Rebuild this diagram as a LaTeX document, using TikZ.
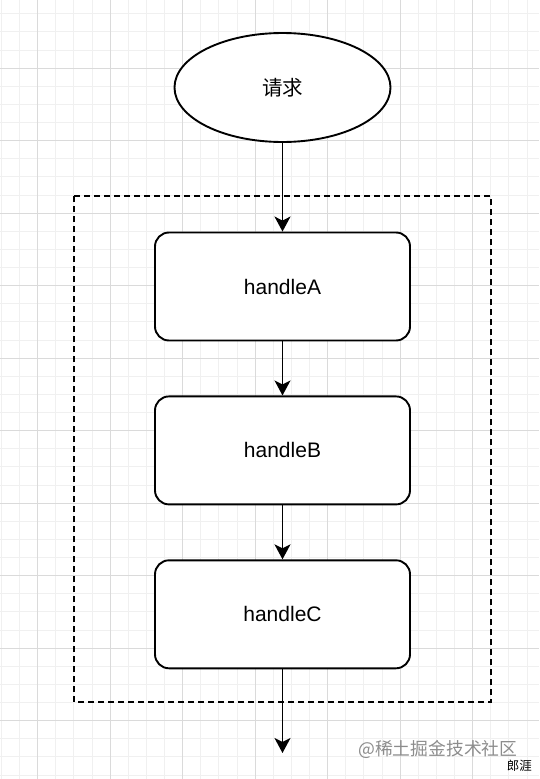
\documentclass[tikz,border=0pt]{standalone}
\usepackage{fontspec}
\setmainfont{Liberation Sans}
\newfontfamily\cjk{Noto Sans CJK SC}
\usepackage{tikz}
\usetikzlibrary{arrows.meta, positioning, shapes.geometric}

\definecolor{gridminor}{HTML}{F0F0F0}
\definecolor{gridmajor}{HTML}{DADADA}

\begin{document}
\begin{tikzpicture}[x=1pt, y=-1pt,
    handler/.style={draw, line width=1.9pt, rounded corners=14pt, minimum width=255pt, minimum height=108pt, font=\fontsize{21}{25}\selectfont},
    flow/.style={-{Stealth[length=15pt, width=16pt, inset=4pt]}, line width=1.9pt}]
    \useasboundingbox (0,0) rectangle (539,779);
    
    % Grid background
    \foreach \i in {0,...,30}
        \draw[gridminor, line width=0.6pt] (1.25+18.125*\i, 0) -- (1.25+18.125*\i, 779);
    \foreach \i in {0,...,43}
        \draw[gridminor, line width=0.6pt] (0, 13.625+18.125*\i) -- (539, 13.625+18.125*\i);
    \foreach \i in {0,...,7}
        \draw[gridmajor, line width=0.8pt] (37.5+72.5*\i, 0) -- (37.5+72.5*\i, 779);
    \foreach \i in {0,...,10}
        \draw[gridmajor, line width=0.8pt] (0, 68+72.5*\i) -- (539, 68+72.5*\i);
    
    % Request
    \node[draw, ellipse, line width=1.9pt, fill=white, minimum width=216pt, minimum height=109pt, font=\cjk\fontsize{20.5}{24}\selectfont] (req) at (282.5, 87.5) {请求};
    
    % Handler chain
    \draw[line width=1.8pt, dash pattern=on 6pt off 4pt] (74,196) rectangle (491,702);
    \node[handler, fill=white] (ha) at (282.5, 286.5) {handleA};
    \node[handler, fill=white, below=54pt of ha] (hb) {handleB};
    \node[handler, fill=white, below=54pt of hb] (hc) {handleC};
    \coordinate (out) at (282.5, 753);
    
    \draw[flow] (req) -- (ha);
    \draw[flow] (ha) -- (hb);
    \draw[flow] (hb) -- (hc);
    \draw[flow] (hc) -- (out);
    
    % Watermark
    \node[anchor=west, text=black!45, font=\cjk\fontsize{17.8}{20}\selectfont, inner sep=0pt] (wm) at (358, 749) {@稀土掘金技术社区};
    \node[anchor=east, font=\cjk\fontsize{12.5}{15}\selectfont, inner sep=0pt] (author) at (532, 766) {郎涯};
\end{tikzpicture}
\end{document}
